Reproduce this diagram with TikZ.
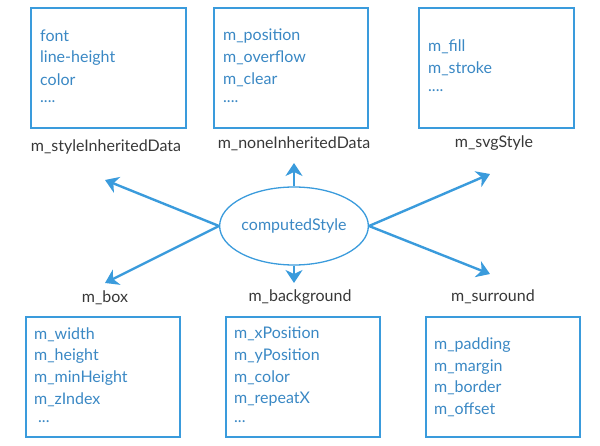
\documentclass[tikz,border=0pt]{standalone}
\usepackage{fontspec}
\setmainfont{Lato}
\usetikzlibrary{arrows.meta,shapes.geometric}
\definecolor{boxblue}{HTML}{3A9BDC}
\definecolor{txtblue}{HTML}{3A88C4}
\definecolor{lblgray}{HTML}{383838}
\tikzset{
  databox/.style={draw=boxblue, line width=1.3pt},
  item/.style={anchor=west, text=txtblue, font=\fontsize{16}{19}\selectfont, inner sep=0pt},
  lbl/.style={text=lblgray, font=\fontsize{16}{19}\selectfont, inner sep=0pt},
  arr/.style={draw=boxblue, line width=2.4pt, -{Stealth[length=13pt,width=17pt,inset=4pt]}},
}
\begin{document}
\begin{tikzpicture}[x=1pt,y=-1pt]
\useasboundingbox (0,0) rectangle (600,446);
% top boxes
\draw[databox] (31,8) rectangle (186,128);
\node[item] (a1) at (40,36) {font};
\node[item] (a2) at (40,58) {line-height};
\node[item] (a3) at (40,80) {color};
\node[item] (a4) at (40,102) {....};
\node[lbl] (la) at (106,147) {m\_styleInheritedData};

\draw[databox] (214,8) rectangle (368,128);
\node[item] (b1) at (223,36) {m\_position};
\node[item] (b2) at (223,58) {m\_overflow};
\node[item] (b3) at (223,80) {m\_clear};
\node[item] (b4) at (223,102) {....};
\node[lbl] (lb) at (294,144) {m\_noneInheritedData};

\draw[databox] (419,8) rectangle (574,128);
\node[item] (c1) at (428,47) {m\_fill};
\node[item] (c2) at (428,69) {m\_stroke};
\node[item] (c3) at (428,91) {....};
\node[lbl] (lc) at (494,143) {m\_svgStyle};

% center
\node[draw=boxblue, line width=1.3pt, ellipse, minimum width=148pt, minimum height=78pt, inner sep=0pt, text=txtblue, font=\fontsize{16}{19}\selectfont] (cs) at (294,226) {computedStyle};
\coordinate (tUp) at (294,163);
\coordinate (tDown) at (294,283);
\coordinate (tLU) at (105,180);
\coordinate (tLD) at (105,283);
\coordinate (tRU) at (490,174);
\coordinate (tRD) at (490,274);
\draw[arr] (cs.north) -- (tUp);
\draw[arr] (cs.south) -- (tDown);
\draw[arr] (cs.west) -- (tLU);
\draw[arr] (cs.west) -- (tLD);
\draw[arr] (cs.east) -- (tRU);
\draw[arr] (cs.east) -- (tRD);

% bottom labels
\node[lbl] (ld) at (105,298) {m\_box};
\node[lbl] (le) at (300,297) {m\_background};
\node[lbl] (lf) at (493,297) {m\_surround};

% bottom boxes
\draw[databox] (26,317) rectangle (180,437);
\node[item] (d1) at (34,335) {m\_width};
\node[item] (d2) at (34,356) {m\_height};
\node[item] (d3) at (34,378) {m\_minHeight};
\node[item] (d4) at (34,400) {m\_zIndex};
\node[item] (d5) at (38,422) {...};

\draw[databox] (226,317) rectangle (380,437);
\node[item] (e1) at (234,334) {m\_xPosition};
\node[item] (e2) at (234,356) {m\_yPosition};
\node[item] (e3) at (234,378) {m\_color};
\node[item] (e4) at (234,399) {m\_repeatX};
\node[item] (e5) at (234,422) {...};

\draw[databox] (426,317) rectangle (580,437);
\node[item] (f1) at (434,345) {m\_padding};
\node[item] (f2) at (434,367) {m\_margin};
\node[item] (f3) at (434,388) {m\_border};
\node[item] (f4) at (434,410) {m\_offset};
\end{tikzpicture}
\end{document}
